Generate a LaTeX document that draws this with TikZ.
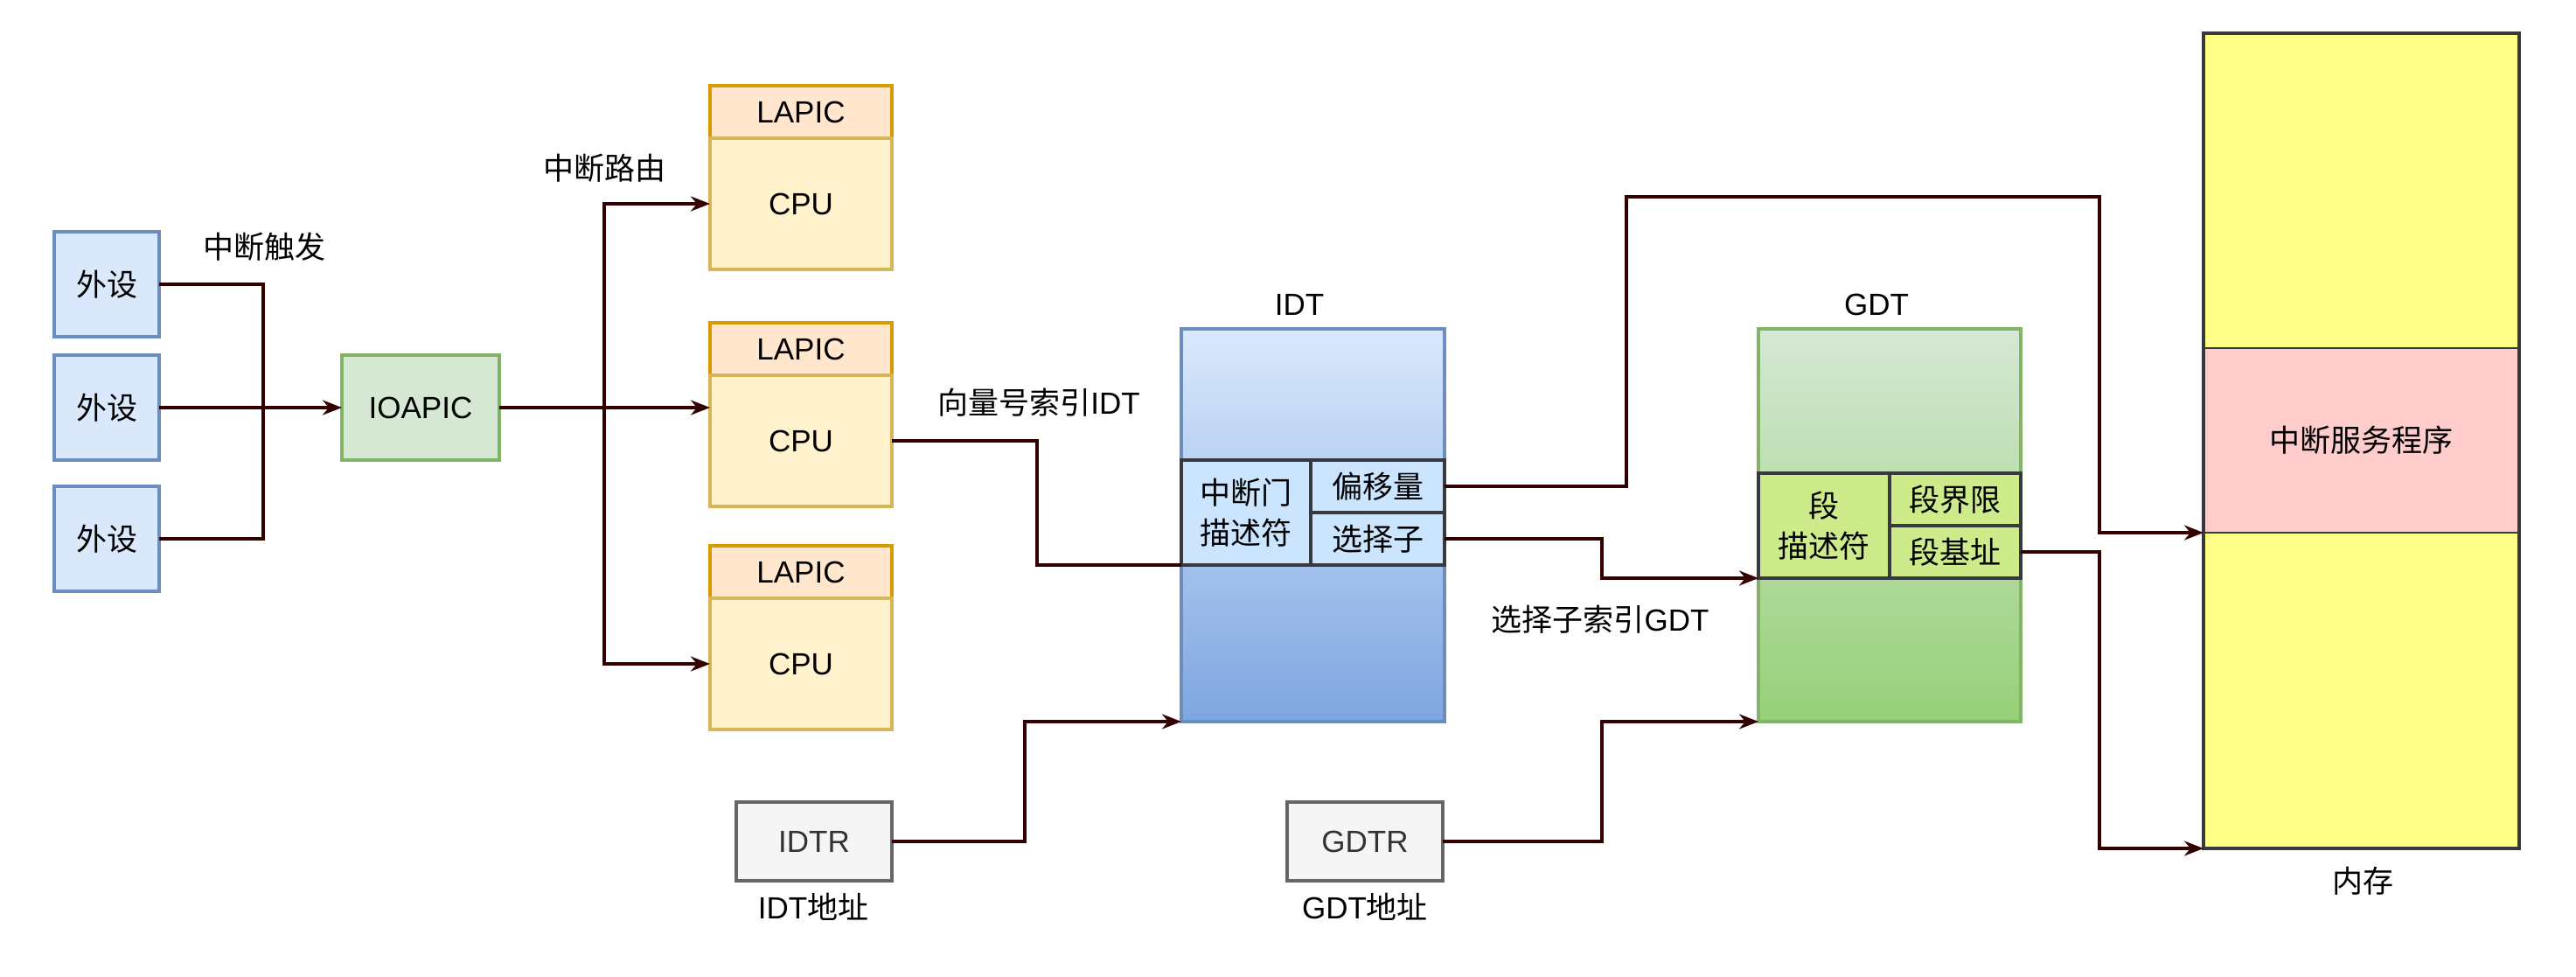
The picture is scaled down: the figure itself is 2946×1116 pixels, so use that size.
\documentclass[tikz,border=0pt]{standalone}
\usepackage{fontspec}
\setmainfont{Liberation Sans}
\newfontfamily\cjk{Noto Sans CJK SC}
\usetikzlibrary{arrows.meta}
\definecolor{periF}{HTML}{DAE8FC}\definecolor{periD}{HTML}{6C8EBF}
\definecolor{ioF}{HTML}{D5E8D4}\definecolor{ioD}{HTML}{82B366}
\definecolor{lapF}{HTML}{FFE6CC}\definecolor{lapD}{HTML}{D79B00}
\definecolor{cpuF}{HTML}{FFF2CC}\definecolor{cpuD}{HTML}{D6B656}
\definecolor{idtB}{HTML}{7EA6E0}\definecolor{cellB}{HTML}{CCE5FF}
\definecolor{gdtB}{HTML}{97D077}\definecolor{cellG}{HTML}{CDEB8B}
\definecolor{darkD}{HTML}{36393D}
\definecolor{memY}{HTML}{FFFF88}\definecolor{memR}{HTML}{FFCCCC}
\definecolor{regF}{HTML}{F5F5F5}\definecolor{regD}{HTML}{666666}\definecolor{regT}{HTML}{333333}
\definecolor{wire}{HTML}{330000}
\begin{document}
\begin{tikzpicture}[x=1pt,y=-1pt,
  txt/.style={font=\fontsize{35}{46}\selectfont, inner sep=0pt, outer sep=0pt, align=center},
  box/.style={txt, draw, line width=3.5pt, minimum width=#1},
  peri/.style={box=120pt, minimum height=120pt, fill=periF, draw=periD},
  lapic/.style={box=208pt, minimum height=60pt, fill=lapF, draw=lapD},
  cpu/.style={box=208pt, minimum height=150pt, fill=cpuF, draw=cpuD},
  idtcell/.style={box=#1, fill=cellB, draw=darkD},
  gdtcell/.style={box=#1, fill=cellG, draw=darkD},
  reg/.style={box=178pt, minimum height=90pt, fill=regF, draw=regD, text=regT},
  memcell/.style={box=361pt, draw=darkD, line width=2pt},
  wireline/.style={draw=wire, line width=3.5pt},
  arr/.style={wireline, -{Stealth[length=22pt,width=17pt,inset=7pt]}}
]
\useasboundingbox (0,0) rectangle (2946,1116);
\fill[white] (0,0) rectangle (2946,1116);

% peripherals and IOAPIC
\node[peri] (p1) at (122,325) {\cjk 外设};
\node[peri] (p2) at (122,466) {\cjk 外设};
\node[peri] (p3) at (122,616) {\cjk 外设};
\node[box=180pt, minimum height=120pt, fill=ioF, draw=ioD] (ioapic) at (481,466) {IOAPIC};
\node[txt] (lTrig) at (302,282) {\cjk 中断触发};
\node[txt] (lRoute) at (691,192) {\cjk 中断路由};

% CPUs
\node[lapic] (lap1) at (916,128) {LAPIC};
\node[cpu] (cpu1) at (916,233) {CPU};
\node[lapic] (lap2) at (916,399) {LAPIC};
\node[cpu] (cpu2) at (916,504) {CPU};
\node[lapic] (lap3) at (916,654) {LAPIC};
\node[cpu] (cpu3) at (916,759) {CPU};

% IDT
\node[box=301pt, minimum height=449pt, draw=periD, top color=periF, bottom color=idtB] (idt) at (1501.5,600.5) {};
\node[txt] (lIDT) at (1486,348) {IDT};
\node[idtcell=148pt, minimum height=120pt] (gate) at (1425,586) {\cjk 中断门\\\cjk 描述符};
\node[idtcell=153pt, minimum height=60pt] (offset) at (1575.5,556) {\cjk 偏移量};
\node[idtcell=153pt, minimum height=60pt] (selector) at (1575.5,616) {\cjk 选择子};

% GDT
\node[box=300pt, minimum height=449pt, draw=ioD, top color=ioF, bottom color=gdtB] (gdt) at (2161,600.5) {};
\node[txt] (lGDT) at (2146,348) {GDT};
\node[gdtcell=150pt, minimum height=120pt] (seg) at (2086,601) {\cjk 段\\\cjk 描述符};
\node[gdtcell=150pt, minimum height=60pt] (limit) at (2236,571) {\cjk 段界限};
\node[gdtcell=150pt, minimum height=60pt] (base) at (2236,631) {\cjk 段基址};

% memory
\node[memcell, minimum height=360pt, fill=memY] (mem1) at (2700.5,218) {};
\node[memcell, minimum height=211pt, fill=memR] (mem2) at (2700.5,503.5) {\cjk 中断服务程序};
\node[memcell, minimum height=361pt, fill=memY] (mem3) at (2700.5,789.5) {};
\draw[draw=darkD, line width=4pt] (mem1.north west) rectangle (mem3.south east);
\node[txt] (lMem) at (2702,1007) {\cjk 内存};

% registers
\node[reg] (idtr) at (931,962) {IDTR};
\node[reg] (gdtr) at (1561,962) {GDTR};
\node[txt] (lIdtr) at (930,1037) {IDT{\cjk 地址}};
\node[txt] (lGdtr) at (1561,1037) {GDT{\cjk 地址}};

% labels
\node[txt] (lVec) at (1188,460) {{\cjk 向量号索引}IDT};
\node[txt] (lSel) at (1830,708) {{\cjk 选择子索引}GDT};

% connectors
\coordinate (j) at (301,466);
\coordinate (r) at (691,466);
\draw[wireline] (p1.east) -| (j);
\draw[wireline] (p3.east) -| (j);
\draw[arr] (p2.east) -- (ioapic.west);
\draw[arr] (ioapic.east) -- (ioapic.east -| cpu2.west);
\draw[arr] (r) |- (cpu1.west);
\draw[arr] (r) |- (cpu3.west);
\draw[wireline] (cpu2.east) -| (1186,646) -- (gate.south west);
\draw[arr] (offset.east) -| (1860,225) -| (2401,609) -- (mem2.south west);
\draw[arr] (selector.east) -| (1832,661) -- (seg.south west);
\draw[arr] (base.east) -| (2401,970) -- (mem3.south west);
\draw[arr] (idtr.east) -| (1172,825) -- (idt.south west);
\draw[arr] (gdtr.east) -| (1832,825) -- (gdt.south west);
\end{tikzpicture}
\end{document}
